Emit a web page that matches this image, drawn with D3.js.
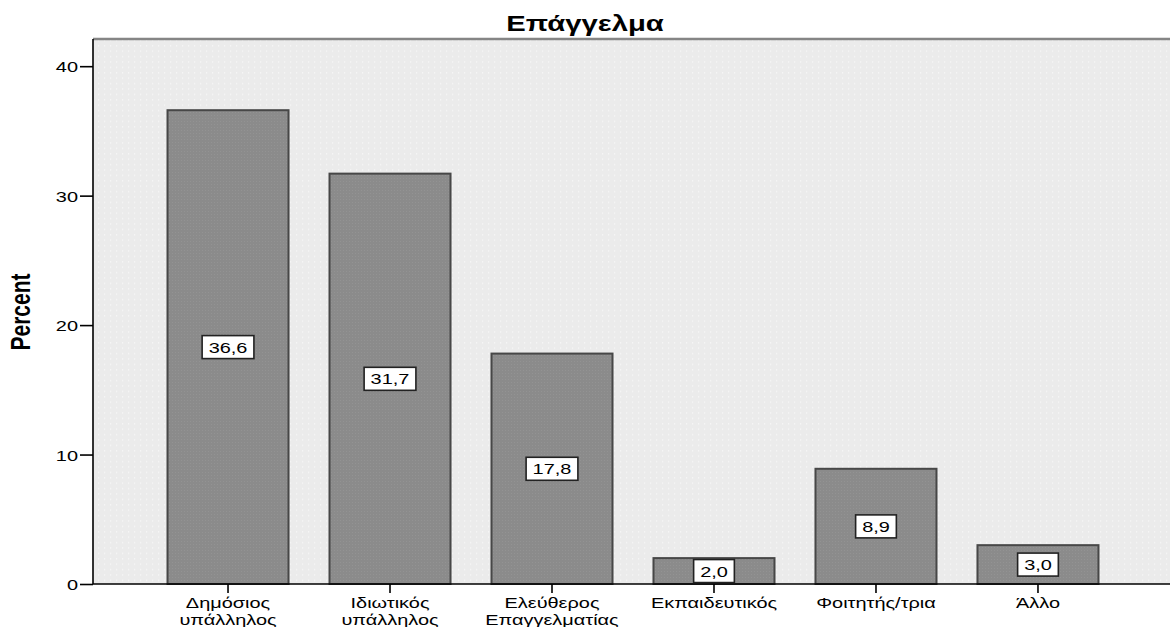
<!DOCTYPE html>
<html><head><meta charset="utf-8">
<script src="https://cdn.jsdelivr.net/npm/d3@7/dist/d3.min.js"></script>
<style>body{margin:0;background:#fff;overflow:hidden}text{font-family:"Liberation Sans",Arial,sans-serif}</style>
</head><body><svg id="c" width="1170" height="627"></svg>
<script>
const title = "Επάγγελμα";
const yTitle = "Percent";
const categories = ["Δημόσιος\nυπάλληλος", "Ιδιωτικός\nυπάλληλος", "Ελεύθερος\nΕπαγγελματίας", "Εκπαιδευτικός", "Φοιτητής/τρια", "Άλλο"];
const values = [36.6, 31.7, 17.8, 2.0, 8.9, 3.0];
const valueLabels = ["36,6", "31,7", "17,8", "2,0", "8,9", "3,0"];
const yTicks = [0, 10, 20, 30, 40];

const SX = 1.33;
const svg = d3.select("#c");
const pLeft = 93, pRight = 1173, pTop = 39, pBottom = 584;
const y = d3.scaleLinear().domain([0, 42.1]).range([pBottom, pTop]);
const x = d3.scaleBand().domain(categories).range([pLeft, pRight]).paddingInner(0.253).paddingOuter(0.46);

const defs = svg.append("defs");
const bgp = defs.append("pattern").attr("id","bgp").attr("patternUnits","userSpaceOnUse").attr("width",6).attr("height",5.4);
bgp.append("rect").attr("width",6).attr("height",5.4).attr("fill","#ebebeb");
bgp.append("rect").attr("x",2).attr("y",2).attr("width",1.2).attr("height",1.2).attr("fill","#f8f8f8");
const brp = defs.append("pattern").attr("id","brp").attr("patternUnits","userSpaceOnUse").attr("width",3).attr("height",3);
brp.append("rect").attr("width",3).attr("height",3).attr("fill","#8b8b8b");
brp.append("rect").attr("x",1).attr("y",1).attr("width",1).attr("height",1).attr("fill","#939393");

// plot background
svg.append("rect").attr("x", pLeft).attr("y", pTop).attr("width", 1172 - pLeft).attr("height", pBottom - pTop).attr("fill", "url(#bgp)");
svg.append("line").attr("x1", pLeft).attr("x2", 1172).attr("y1", pTop).attr("y2", pTop).attr("stroke", "#858585").attr("stroke-width", 2.6);

// bars
svg.append("g").selectAll("rect").data(values).join("rect")
  .attr("x", (d,i) => x(categories[i]))
  .attr("y", d => y(d))
  .attr("width", x.bandwidth())
  .attr("height", d => pBottom - y(d))
  .attr("fill", "url(#brp)")
  .attr("stroke", "#474747").attr("stroke-width", 2);

// axes
const yAxis = svg.append("g").attr("transform", `translate(${pLeft},0)`)
  .call(d3.axisLeft(y).tickValues(yTicks).tickSize(13).tickPadding(3).tickFormat(d3.format("d")));
yAxis.select(".domain").remove();
yAxis.selectAll(".tick line").attr("stroke", "#000").attr("stroke-width", 1.6);
yAxis.selectAll(".tick text").attr("x", 0).attr("dy", null).attr("dominant-baseline", null)
  .attr("transform", `translate(-15,5.5) scale(${SX},1)`).attr("font-size", 15).attr("fill", "#000").attr("font-family", '"Liberation Sans",Arial,sans-serif');
svg.append("line").attr("x1", pLeft).attr("x2", pLeft).attr("y1", pTop).attr("y2", pBottom).attr("stroke", "#000").attr("stroke-width", 1.6);
svg.append("line").attr("x1", pLeft).attr("x2", 1172).attr("y1", pBottom).attr("y2", pBottom).attr("stroke", "#000").attr("stroke-width", 1.6);

const xAxis = svg.append("g").attr("transform", `translate(0,${pBottom})`)
  .call(d3.axisBottom(x).tickSize(9).tickFormat(""));
xAxis.select(".domain").remove();
xAxis.selectAll(".tick line").attr("stroke", "#000").attr("stroke-width", 1.6);
categories.forEach(c => {
  const lines = c.split("\n");
  const t = svg.append("text").attr("text-anchor", "middle").attr("font-size", 15).attr("fill", "#000")
    .attr("transform", `translate(${x(c) + x.bandwidth()/2},608) scale(${SX},1)`);
  lines.forEach((l, j) => t.append("tspan").attr("x", 0).attr("y", j * 17).text(l));
});

// value labels
values.forEach((v, i) => {
  const cx = x(categories[i]) + x.bandwidth()/2, cy = y(v/2);
  const g = svg.append("g");
  const r = g.append("rect");
  const t = g.append("text").attr("text-anchor", "middle").attr("font-size", 15).attr("fill", "#000")
    .attr("transform", `translate(${cx},${cy + 5.5}) scale(${SX},1)`).text(valueLabels[i]);
  const w = t.node().getComputedTextLength() * SX + 13;
  r.attr("x", cx - w/2).attr("y", cy - 11.5).attr("width", w).attr("height", 23)
    .attr("fill", "#fff").attr("stroke", "#222").attr("stroke-width", 1.6);
});

// titles
svg.append("text").attr("text-anchor", "middle").attr("font-size", 22).attr("font-weight", "bold")
  .attr("transform", `translate(585,31) scale(${SX},1)`).text(title);
svg.append("text").attr("text-anchor", "middle").attr("font-size", 21).attr("font-weight", "bold")
  .attr("transform", `translate(30,312) scale(${SX},1) rotate(-90)`).text(yTitle);
</script></body></html>
